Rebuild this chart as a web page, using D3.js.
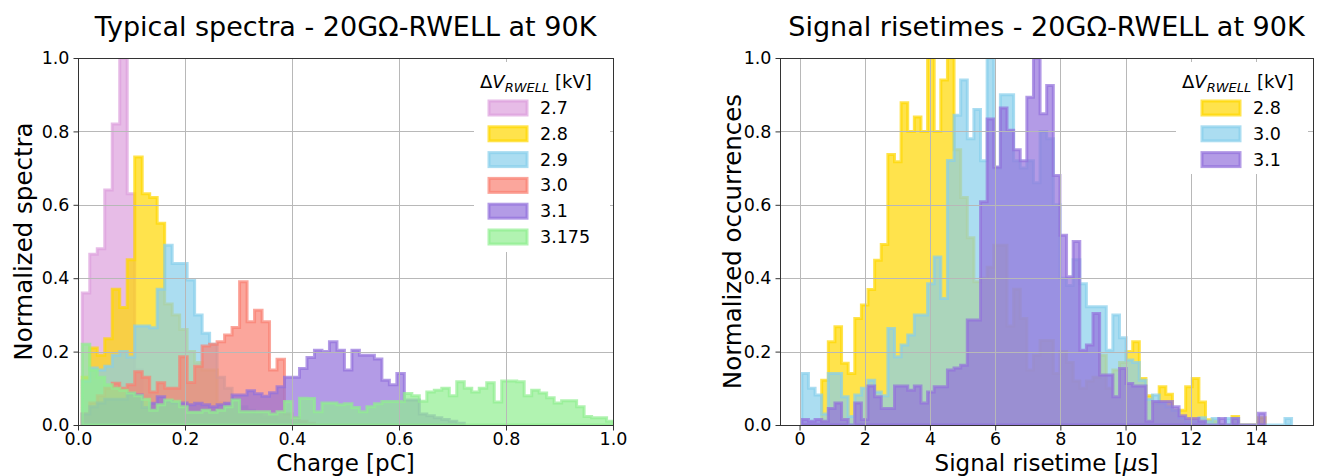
<!DOCTYPE html>
<html><head><meta charset="utf-8">
<script src="https://cdn.jsdelivr.net/npm/d3@7"></script>
<style>
body{margin:0;background:#fff}
svg{display:block}
text{font-family:"DejaVu Sans",sans-serif;fill:#000}
</style>
</head><body>
<svg id="c" width="1322" height="476"></svg>
<script>
// ---------- Left panel data: charge spectra (bin edges start + i*width) ----------
const chargeBinStart = 0.008;
const chargeBinWidth = 0.014;
const spectraLabels = ["2.7", "2.8", "2.9", "3.0", "3.1", "3.175"];
const spectrum27 = [0.36,0.465,0.48,0.64,0.82,1.0,0.63,0.15,0.08,0.05,0.03,0.02,0.015,0.01,0.01,0.005,0.005];
const spectrum28 = [0.13,0.21,0.19,0.235,0.37,0.32,0.45,0.73,0.63,0.62,0.55,0.33,0.3,0.26,0.2,0.17,0.15,0.15,0.06,0.04,0.03,0.02,0.015,0.01,0.01,0.005];
const spectrum29 = [0.12,0.155,0.15,0.16,0.19,0.2,0.185,0.27,0.27,0.265,0.37,0.49,0.44,0.44,0.395,0.3,0.25,0.22,0.13,0.1,0.07,0.05,0.04,0.03,0.02,0.02,0.01,0.01,0.005];
const spectrum30 = [0.03,0.06,0.08,0.1,0.114,0.1,0.11,0.145,0.13,0.09,0.115,0.1,0.1,0.186,0.116,0.16,0.215,0.22,0.227,0.245,0.266,0.39,0.281,0.313,0.281,0.15,0.179,0.03,0.02,0.01,0.005];
const spectrum31 = [0.03,0.05,0.06,0.07,0.07,0.07,0.085,0.082,0.048,0.059,
  0.077,0.065,0.06,0.06,0.055,0.059,0.055,0.05,0.055,0.059,
  0.082,0.082,0.093,0.085,0.078,0.088,0.104,0.13,0.13,0.154,
  0.184,0.204,0.2,0.227,0.204,0.15,0.204,0.19,0.19,0.18,
  0.122,0.11,0.14,0.068,0.068,0.03,0.025,0.02,0.015,0.01,0.005];
const spectrum3175 = [0.22,0.15,0.13,0.11,0.1,0.095,0.087,0.08,0.07,0.04,
  0.055,0.068,0.065,0.05,0.035,0.035,0.04,0.035,0.04,0.05,
  0.068,0.036,0.036,0.036,0.036,0.03,0.036,0.064,0.02,0.073,
  0.072,0.036,0.06,0.06,0.055,0.058,0.048,0.036,0.05,0.058,
  0.064,0.064,0.064,0.086,0.08,0.065,0.09,0.095,0.1,0.08,
  0.118,0.1,0.09,0.1,0.115,0.063,0.12,0.12,0.118,0.08,
  0.095,0.087,0.074,0.06,0.066,0.066,0.05,0.023,0.02,0.02,0.01];
const chargeTicks = [0, 0.2, 0.4, 0.6, 0.8, 1.0];

// ---------- Right panel data: signal risetimes ----------
const riseBinStart = 0.07;
const riseBinWidth = 0.203;
const riseLabels = ["2.8", "3.0", "3.1"];
const rise28 = [0,0,0,0.122,0.227,0.268,0.168,0.14,0.29,0.327,
  0.369,0.449,0.492,0.737,0.717,0.878,0.8,0.839,0.8,1.0,
  0.8,0.94,1.0,0.75,0.62,0.51,0.39,0.4,0.43,0.49,
  0.49,0.27,0.37,0.29,0.15,0.19,0.23,0.23,0.14,0.2,
  0.17,0.12,0.1,0.12,0.13,0.19,0.1,0.15,0.17,0.2,
  0.227,0.127,0.08,0.06,0.104,0.084,0.04,0.04,0.104,0.127,
  0.063,0.014,0.01,0,0,0.023,0,0,0,0.02];
const rise30 = [0.14,0.1,0.082,0.03,0.14,0.14,0.077,0.023,0.082,0.1,
  0.122,0.09,0.08,0.263,0.186,0.218,0.245,0.3,0.3,0.385,
  0.458,0.345,0.721,0.844,0.94,0.78,0.86,0.72,1.0,0.7,
  0.9,0.9,0.72,0.7,0.72,0.66,0.8,0.78,0.6,0.4,
  0.38,0.45,0.385,0.322,0.322,0.322,0.204,0.3,0.238,0.177,
  0.17,0.122,0.07,0.082,0.06,0.05,0.04,0.02,0.01,0.01,
  0.02,0.01,0.018,0,0.018,0.018,0,0,0,0,
  0,0,0,0.018];
const rise31 = [0.015,0.01,0.015,0.01,0.045,0.06,0.015,0,0.06,0.015,
  0.106,0.077,0.045,0.045,0.106,0.106,0.095,0.106,0.06,0.09,
  0.104,0.104,0.15,0.155,0.163,0.286,0.286,0.608,0.834,0.703,
  0.864,0.803,0.75,0.72,0.893,1.0,0.848,0.925,0.68,0.517,
  0.404,0.5,0.204,0.218,0.304,0.136,0.136,0.077,0.154,0.113,
  0.106,0.106,0.01,0.064,0.064,0.064,0.05,0.025,0.018,0.018,
  0.01,0,0,0.018,0,0.018,0,0,0,0.032];
const riseTicks = [0, 2, 4, 6, 8, 10, 12, 14];
const yTicks = [0, 0.2, 0.4, 0.6, 0.8, 1.0];

const spectraColors = ["plum", "gold", "skyblue", "salmon", "mediumpurple", "lightgreen"];
const riseColors = ["gold", "skyblue", "mediumpurple"];

const svg = d3.select("#c");
const ALPHA = 0.7;

function legendTitle(g, x, y) {
  const t = g.append("text").attr("x", x).attr("y", y).style("font-size", "18px");
  t.append("tspan").text("\u0394");
  t.append("tspan").style("font-style", "italic").text("V");
  t.append("tspan").style("font-style", "italic").style("font-size", "13px").attr("dy", 4).text("RWELL");
  t.append("tspan").attr("dy", -4).text(" [kV]");
}

function drawPanel(o) {
  const x = d3.scaleLinear().domain(o.xDomain).range([o.x0, o.x1]);
  const y = d3.scaleLinear().domain([0, 1]).range([o.y1, o.y0]);
  const cid = "clip" + o.x0;
  svg.append("clipPath").attr("id", cid).append("rect")
    .attr("x", o.x0).attr("y", o.y0).attr("width", o.x1 - o.x0).attr("height", o.y1 - o.y0);
  const g = svg.append("g");
  const plot = g.append("g").attr("clip-path", `url(#${cid})`);
  const line = d3.line().x(d => x(d[0])).y(d => y(d[1]));
  o.series.forEach((vals, k) => {
    const pts = [[o.binStart, 0]];
    vals.forEach((v, i) => {
      const a = o.binStart + i * o.binWidth;
      pts.push([a, v], [a + o.binWidth, v]);
    });
    pts.push([o.binStart + vals.length * o.binWidth, 0]);
    plot.append("path").attr("d", line(pts) + "Z")
      .attr("fill", o.colors[k]).attr("fill-opacity", ALPHA)
      .attr("stroke", o.colors[k]).attr("stroke-opacity", ALPHA)
      .attr("stroke-width", 3).attr("stroke-linejoin", "miter");
  });
  // grid (above patches, like matplotlib)
  const grid = g.append("g").attr("stroke", "#b8b8b8").attr("stroke-width", 1);
  o.xTicks.forEach(t => grid.append("line").attr("x1", Math.round(x(t)) + 0.5).attr("x2", Math.round(x(t)) + 0.5).attr("y1", o.y0).attr("y2", o.y1));
  yTicks.forEach(t => grid.append("line").attr("y1", Math.round(y(t)) + 0.5).attr("y2", Math.round(y(t)) + 0.5).attr("x1", o.x0).attr("x2", o.x1));

  // legend
  const lg = g.append("g");
  lg.append("rect").attr("x", o.legend.x).attr("y", o.legend.y).attr("width", o.legend.w).attr("height", o.legend.h)
    .attr("rx", 3).attr("fill", "#fff");
  legendTitle(lg, o.legend.tx, o.legend.y + 26);
  o.labels.forEach((lab, k) => {
    const cy = o.legend.y + 46 + k * 25.8;
    lg.append("rect").attr("x", o.legend.px).attr("y", cy - 7).attr("width", 38).attr("height", 14)
      .attr("fill", o.colors[k]).attr("fill-opacity", ALPHA)
      .attr("stroke", o.colors[k]).attr("stroke-opacity", ALPHA).attr("stroke-width", 3);
    lg.append("text").attr("x", o.legend.px + 51).attr("y", cy + 6).style("font-size", "17.5px").text(lab);
  });

  // frame
  g.append("rect").attr("x", o.x0 + 0.5).attr("y", o.y0 + 0.5).attr("width", o.x1 - o.x0).attr("height", o.y1 - o.y0)
    .attr("fill", "none").attr("stroke", "#333").attr("stroke-width", 1);

  // axes
  const ax = g.append("g").attr("transform", `translate(0,${o.y1 + 0.5})`)
    .call(d3.axisBottom(x).tickValues(o.xTicks).tickSize(5).tickPadding(2).tickFormat(o.xFmt));
  const ay = g.append("g").attr("transform", `translate(${o.x0 + 0.5},0)`)
    .call(d3.axisLeft(y).tickValues(yTicks).tickSize(5).tickPadding(4).tickFormat(d3.format(".1f")));
  [ax, ay].forEach(a => {
    a.select(".domain").remove();
    a.selectAll(".tick line").attr("stroke", "#333");
    a.selectAll("text").style("font-size", "17.5px").style("font-family", '"DejaVu Sans",sans-serif').attr("fill", "#000");
  });

  // titles
  g.append("text").attr("x", (o.x0 + o.x1) / 2).attr("y", 36).attr("text-anchor", "middle")
    .style("font-size", "27px").text(o.title);
  const xl = g.append("text").attr("x", (o.x0 + o.x1) / 2).attr("y", 471).attr("text-anchor", "middle")
    .style("font-size", "23px");
  o.xlabel(xl);
  g.append("text").attr("transform", `translate(${o.ylabelX},${(o.y0 + o.y1) / 2}) rotate(-90)`)
    .attr("text-anchor", "middle").style("font-size", "24.5px").text(o.ylabel);
}

drawPanel({
  x0: 78, x1: 613, y0: 58, y1: 425,
  xDomain: [0, 1], xTicks: chargeTicks, xFmt: d3.format(".1f"),
  series: [spectrum27, spectrum28, spectrum29, spectrum30, spectrum31, spectrum3175],
  colors: spectraColors, labels: spectraLabels,
  binStart: chargeBinStart, binWidth: chargeBinWidth,
  title: "Typical spectra - 20G\u03A9-RWELL at 90K",
  xlabel: t => t.text("Charge [pC]"),
  ylabel: "Normalized spectra", ylabelX: 32,
  legend: { x: 474, y: 62, w: 136, h: 190, tx: 480, px: 489 }
});

drawPanel({
  x0: 780, x1: 1313, y0: 58, y1: 425,
  xDomain: [-0.6, 15.75], xTicks: riseTicks, xFmt: d3.format("d"),
  series: [rise28, rise30, rise31],
  colors: riseColors, labels: riseLabels,
  binStart: riseBinStart, binWidth: riseBinWidth,
  title: "Signal risetimes - 20G\u03A9-RWELL at 90K",
  xlabel: t => {
    t.append("tspan").text("Signal risetime [");
    t.append("tspan").style("font-style", "italic").text("\u03BC");
    t.append("tspan").text("s]");
  },
  ylabel: "Normalized occurrences", ylabelX: 741,
  legend: { x: 1176, y: 62, w: 132, h: 112, tx: 1182, px: 1202 }
});
</script>
</body></html>
